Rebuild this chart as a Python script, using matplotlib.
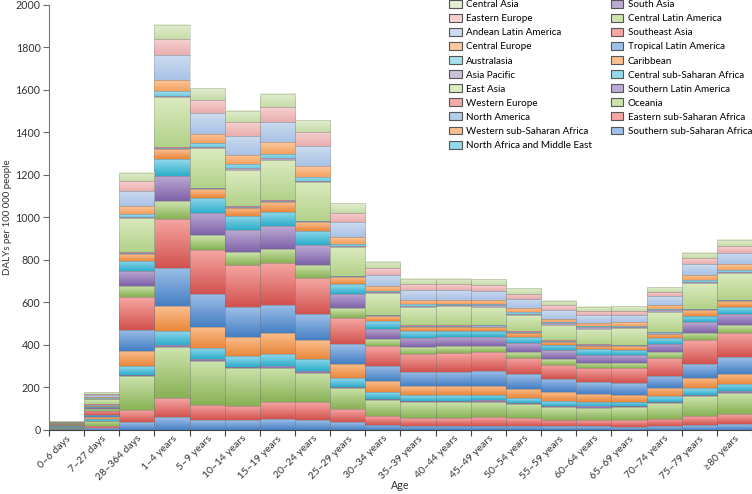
import numpy as np
import matplotlib
matplotlib.use("Agg")
import matplotlib.pyplot as plt
from matplotlib.patches import Patch
from matplotlib.colors import to_rgb
import matplotlib.transforms as mtransforms

plt.rcParams['font.family'] = ['Lato', 'DejaVu Sans']

ages = ["0–6 days", "7–27 days", "28–364 days", "1–4 years", "5–9 years",
        "10–14 years", "15–19 years", "20–24 years", "25–29 years", "30–34 years",
        "35–39 years", "40–44 years", "45–49 years", "50–54 years", "55–59 years",
        "60–64 years", "65–69 years", "70–74 years", "75–79 years", "≥80 years"]

# DALYs per 100 000, one list per region (stack order, bottom first)
southern_ssa    = [2, 8, 36, 60, 47, 44, 49, 47, 36, 24, 19, 19, 20, 19, 17, 16, 13, 16, 22, 27]
eastern_ssa     = [2, 8, 55, 89, 72, 67, 80, 83, 60, 42, 36, 35, 38, 36, 30, 28, 31, 33, 42, 46]
oceania         = [5, 24, 160, 240, 204, 180, 162, 137, 100, 75, 74, 75, 75, 67, 61, 60, 61, 75, 93, 100]
southern_latam  = [1, 3, 6, 8, 8, 6, 8, 8, 6, 6, 6, 6, 6, 6, 6, 6, 6, 6, 8, 8]
central_ssa     = [2, 8, 41, 69, 53, 49, 56, 60, 42, 31, 28, 28, 24, 22, 22, 20, 20, 27, 30, 33]
caribbean       = [2, 8, 72, 116, 99, 93, 99, 89, 66, 50, 41, 44, 44, 44, 41, 38, 35, 38, 50, 50]
tropical_latam  = [2, 11, 102, 180, 158, 138, 133, 122, 94, 74, 67, 67, 71, 69, 63, 55, 52, 58, 66, 77]
southeast_asia  = [3, 19, 152, 231, 207, 201, 199, 168, 122, 93, 88, 89, 86, 77, 66, 67, 74, 85, 110, 116]
central_latam   = [2, 9, 52, 83, 67, 61, 67, 64, 46, 31, 30, 30, 30, 28, 27, 24, 22, 27, 35, 35]
south_asia      = [2, 6, 71, 121, 107, 102, 105, 94, 69, 50, 44, 42, 42, 41, 41, 39, 36, 41, 50, 53]
n_africa_me     = [1, 5, 49, 78, 71, 66, 69, 66, 47, 36, 30, 30, 30, 27, 25, 27, 27, 28, 31, 31]
western_ssa     = [1, 5, 30, 47, 39, 39, 44, 39, 30, 22, 20, 20, 20, 19, 16, 16, 16, 19, 25, 28]
north_america   = [1, 3, 6, 6, 5, 5, 6, 5, 5, 5, 5, 5, 5, 5, 5, 5, 5, 5, 5, 5]
western_europe  = [1, 3, 3, 3, 3, 3, 3, 3, 3, 3, 3, 3, 3, 3, 3, 3, 3, 3, 3, 3]
east_asia       = [5, 24, 163, 234, 185, 169, 191, 182, 133, 100, 86, 88, 86, 78, 72, 72, 78, 94, 119, 124]
asia_pacific    = [1, 3, 6, 8, 6, 8, 8, 6, 6, 6, 6, 6, 6, 6, 6, 6, 6, 8, 8, 8]
australasia     = [1, 3, 11, 20, 19, 19, 19, 19, 11, 6, 8, 6, 5, 6, 5, 6, 5, 6, 8, 9]
central_europe  = [1, 5, 38, 55, 44, 44, 55, 49, 33, 24, 20, 20, 20, 19, 17, 16, 16, 20, 25, 28]
andean_latam    = [2, 8, 72, 118, 97, 91, 97, 93, 67, 52, 46, 46, 44, 44, 41, 36, 35, 41, 49, 53]
eastern_europe  = [1, 6, 44, 74, 61, 63, 69, 69, 46, 31, 30, 28, 28, 25, 22, 19, 20, 20, 28, 30]
central_asia    = [2, 9, 42, 66, 56, 55, 63, 55, 44, 30, 24, 25, 25, 25, 19, 19, 20, 22, 27, 30]

regions = [
    ("Southern sub-Saharan Africa", southern_ssa),
    ("Eastern sub-Saharan Africa", eastern_ssa),
    ("Oceania", oceania),
    ("Southern Latin America", southern_latam),
    ("Central sub-Saharan Africa", central_ssa),
    ("Caribbean", caribbean),
    ("Tropical Latin America", tropical_latam),
    ("Southeast Asia", southeast_asia),
    ("Central Latin America", central_latam),
    ("South Asia", south_asia),
    ("North Africa and Middle East", n_africa_me),
    ("Western sub-Saharan Africa", western_ssa),
    ("North America", north_america),
    ("Western Europe", western_europe),
    ("East Asia", east_asia),
    ("Asia Pacific", asia_pacific),
    ("Australasia", australasia),
    ("Central Europe", central_europe),
    ("Andean Latin America", andean_latam),
    ("Eastern Europe", eastern_europe),
    ("Central Asia", central_asia),
]

# (top colour, bottom colour) of the excel-like gradient fill
blue   = ("#9dbfe8", "#4680c4")
red    = ("#f6a6a3", "#d2534f")
green  = ("#cde3ad", "#88b255")
purple = ("#bcaad4", "#7f63a9")
cyan   = ("#93d9ec", "#2eaecb")
orange = ("#fbbf8f", "#e9883c")
fills = [blue, red, green, purple, cyan, orange,
         blue, red, green, purple, cyan, orange,
         ("#b3cdeb", "#7fa8dc"), ("#f4aaa8", "#e57f7c"), ("#dbeabf", "#b2d28a"),
         ("#cdc0da", "#a692c6"), ("#a8e0ee", "#6ccade"), ("#fcc89e", "#f4a260"),
         ("#cddcf0", "#a9c2e6"), ("#f6d0d0", "#eaaeae"), ("#e2eed0", "#c6dca8")]


def gradient(ax, rect, top, bot):
    n = 32
    t = np.linspace(0, 1, n)[:, None]
    c0, c1 = np.array(to_rgb(bot)), np.array(to_rgb(top))
    img = (c0 + (c1 - c0) * t)[:, None, :]
    x0, y0 = rect.get_x(), rect.get_y()
    ax.imshow(img, extent=[x0, x0 + rect.get_width(), y0, y0 + rect.get_height()],
              origin="lower", aspect="auto", interpolation="bilinear", zorder=1)


fig = plt.figure(figsize=(7.52, 4.94), dpi=100)
ax = fig.add_axes([0.065, 0.13, 0.935, 0.86])

x = np.arange(len(ages))
bottom = np.zeros(len(ages))
handles = []
for (name, vals), (ctop, cbot) in zip(regions, fills):
    vals = np.array(vals, dtype=float)
    bars = ax.bar(x, vals, width=1.0, bottom=bottom, facecolor="none",
                  edgecolor=(0.45, 0.45, 0.45, 0.35), linewidth=0.5, zorder=2)
    for r in bars:
        gradient(ax, r, ctop, cbot)
    bottom += vals
    handles.append(Patch(facecolor=ctop, edgecolor="#555555", linewidth=0.8, label=name))

ax.set_xlim(-0.5, len(ages) - 0.5)
ax.set_ylim(0, 2000)
ax.set_yticks(np.arange(0, 2001, 200))

ax.set_xticks(np.arange(len(ages) + 1) - 0.5)
ax.set_xticklabels([])
ax.set_xticks(x, minor=True)
labs = ax.set_xticklabels(ages, minor=True, rotation=45, ha="right", rotation_mode="anchor", fontsize=7.5, color="#333333")
off = mtransforms.ScaledTranslation(6 / 72, 0, fig.dpi_scale_trans)
for t in labs:
    t.set_transform(t.get_transform() + off)
ax.tick_params(axis="x", which="minor", length=0, pad=3)
ax.tick_params(axis="x", which="major", length=4, width=0.8, color="#444444")
ax.tick_params(axis="y", length=4, width=0.8, color="#666666", labelsize=7.7, labelcolor="#333333", pad=2)

for s in ("top", "right"):
    ax.spines[s].set_visible(False)
ax.spines["left"].set_color("#777777")
ax.spines["bottom"].set_color("#444444")

ax.set_ylabel("DALYs per 100 000 people", fontsize=7, color="#333333")
ax.yaxis.set_label_coords(-0.053, 0.5)
ax.set_xlabel("Age", fontsize=7.7, color="#333333")
ax.xaxis.set_label_coords(0.5, -0.118)

ax.legend(handles=handles[::-1], ncol=2, loc="upper right", bbox_to_anchor=(1.0, 1.012),
          frameon=False, fontsize=7.1, handlelength=1.25, handleheight=0.85,
          handletextpad=0.45, labelspacing=0.48, columnspacing=1.9,
          borderaxespad=0, borderpad=0)

fig.savefig("out.png", dpi=100)
